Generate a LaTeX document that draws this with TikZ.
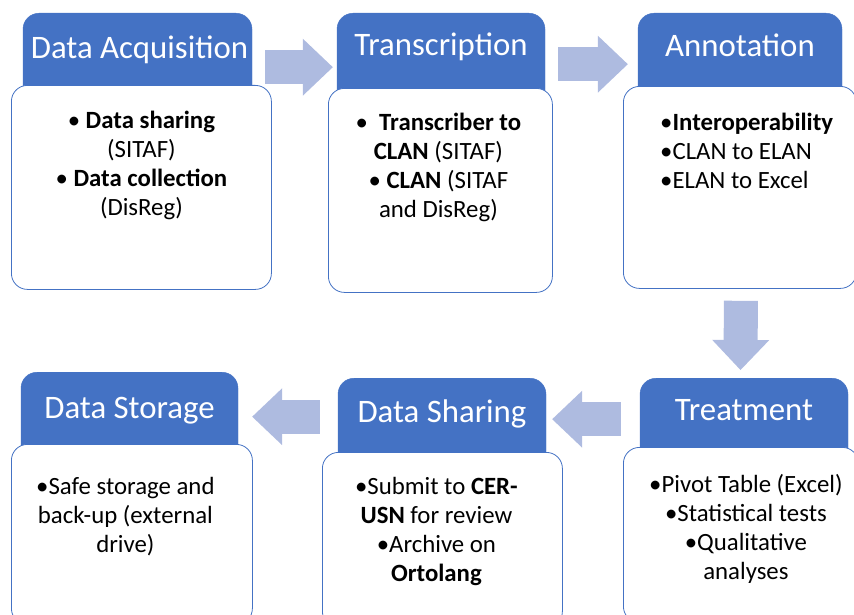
\documentclass[tikz,border=0pt]{standalone}
\usepackage{fontspec}
\setmainfont{Carlito}
\usepackage{tikz}
\usetikzlibrary{positioning}
\usetikzlibrary{calc}
\usetikzlibrary{arrows.meta}
\definecolor{headblue}{HTML}{4472C4}
\definecolor{flowblue}{RGB}{174,187,224}

\begin{document}
\begin{tikzpicture}[x=1pt,y=-1pt]
\tikzstyle{headbox} =[rectangle,rounded corners=16pt,fill=headblue,draw=headblue,minimum height=100pt,anchor=north,inner sep=0pt]
\tikzstyle{headtitle} =[text=white,font=\fontsize{32.8}{38}\selectfont,anchor=base,inner sep=0pt]
\tikzstyle{bodybox} =[rectangle,rounded corners=16pt,fill=white,draw=headblue,line width=0.8pt,anchor=north west,inner sep=0pt]
\tikzstyle{bodytext} =[font=\fontsize{24.8}{29}\selectfont,align=center,anchor=north,inner sep=0pt]
\tikzstyle{flowarrow} =[draw=flowblue,line width=34pt,-{Triangle[length=30pt,width=57pt,line width=0pt]}]
\useasboundingbox (0,0) rectangle (854,615);

% top row
\node[headbox,minimum width=229pt](acqhead) at (137.5,13){};
\node[headtitle](acqtitle) at ($(acqhead.north)+(2,46)$){Data Acquisition};
\node[bodybox,minimum width=260pt,minimum height=204pt](acqbody) at (11,85){};
\node[bodytext](acqtxt) at ($(acqbody.north)+(0,26)$){\textbullet\ \textbf{Data sharing}\\(SITAF)\\\textbullet\ \textbf{Data collection}\\(DisReg)};

\node[headbox,minimum width=208pt](transhead) at (441,13){};
\node[headtitle](transtitle) at ($(transhead.north)+(0,43)$){Transcription};
\node[bodybox,minimum width=224pt,minimum height=204pt](transbody) at (328,88){};
\node[bodytext](transtxt) at ($(transbody.north)+(-2,25)$){\textbullet\ \ \textbf{Transcriber to}\\\textbf{CLAN} (SITAF)\\\textbullet\ \textbf{CLAN} (SITAF\\and DisReg)};

\node[headbox,minimum width=204pt](annohead) at (740,13){};
\node[headtitle](annotitle) at ($(annohead.north)+(0,44)$){Annotation};
\node[bodybox,minimum width=233pt,minimum height=202pt](annobody) at (623,86){};
\node[bodytext,align=left,anchor=north west](annotxt) at ($(annobody.north west)+(37,27)$){\textbullet\textbf{Interoperability}\\\textbullet CLAN to ELAN\\\textbullet ELAN to Excel};

% bottom row
\node[headbox,minimum width=208pt](treathead) at (744,378){};
\node[headtitle](treattitle) at ($(treathead.north)+(0,42)$){Treatment};
\node[bodybox,minimum width=235pt,minimum height=175pt](treatbody) at (623,447){};
\node[bodytext](treattxt) at ($(treatbody.north)+(5,27)$){\textbullet Pivot Table (Excel)\\\textbullet Statistical tests\\\textbullet Qualitative\\analyses};

\node[headbox,minimum width=208pt](sharehead) at (442,378){};
\node[headtitle](sharetitle) at ($(sharehead.north)+(0,44)$){Data Sharing};
\node[bodybox,minimum width=240pt,minimum height=175pt](sharebody) at (322,452){};
\node[bodytext](sharetxt) at ($(sharebody.north)+(-6,25)$){\textbullet Submit to \textbf{CER-}\\\textbf{USN} for review\\\textbullet Archive on\\\textbf{Ortolang}};

\node[headbox,minimum width=217pt](storehead) at (129.5,372){};
\node[headtitle](storetitle) at ($(storehead.north)+(0,46)$){Data Storage};
\node[bodybox,minimum width=241pt,minimum height=180pt](storebody) at (11,444){};
\node[bodytext](storetxt) at ($(storebody.north)+(-6.5,33)$){\textbullet Safe storage and\\back-up (external\\drive)};

% arrows
\draw[flowarrow] ($(acqhead.east)+(13,4)$)--($(transhead.west)+(-4,4)$);
\draw[flowarrow] ($(transhead.east)+(13,1)$)--($(annohead.west)+(-10,1)$);
\draw[flowarrow] ($(annobody.south)+(1,12)$)--($(treathead.north)+(-3.5,-8)$);
\draw[flowarrow] ($(treathead.west)+(-19,-9)$)--($(sharehead.east)+(6,-9)$);
\draw[flowarrow] ($(sharehead.west)+(-18,-11.5)$)--($(storehead.east)+(14,-5.5)$);
\end{tikzpicture}
\end{document}
